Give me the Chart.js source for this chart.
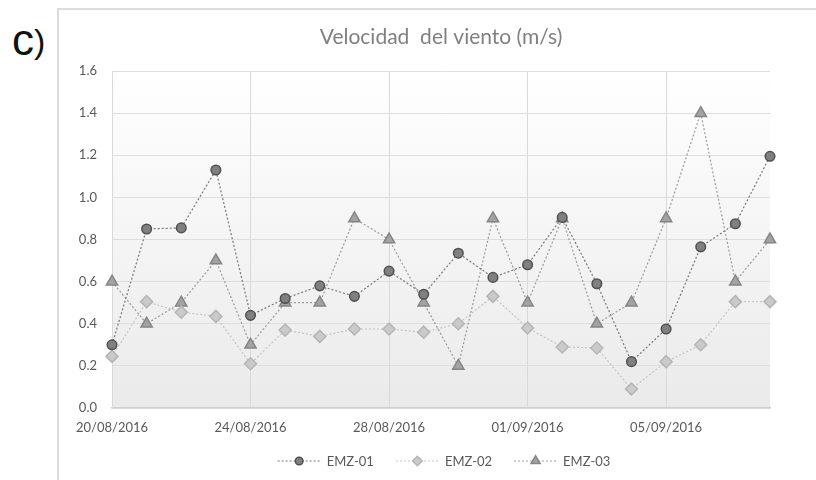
<!DOCTYPE html>
<html>
<head>
<meta charset="utf-8">
<script src="https://cdn.jsdelivr.net/npm/chart.js@4/dist/chart.umd.min.js"></script>
<style>
  html,body{margin:0;padding:0;background:#fff;}
  #wrap{position:relative;width:816px;height:480px;overflow:hidden;}
  #frame{position:absolute;left:57px;top:8px;width:800px;height:500px;border:2px solid #dcdcdc;box-sizing:border-box;}
  #lab{position:absolute;left:12px;top:18px;font-family:"Liberation Sans",Arial,sans-serif;color:#111;line-height:1;}
  canvas{position:absolute;left:0;top:0;}
</style>
</head>
<body>
<div id="wrap">
  <div id="frame"></div>
  <div id="lab"><span style="font-size:44px">c</span><span style="font-size:34px;position:relative;top:-2px">)</span></div>
  <canvas id="c" width="816" height="480"></canvas>
</div>
<script>
const TITLE = "Velocidad  del viento (m/s)";
const dates = ["20/08/2016","21/08/2016","22/08/2016","23/08/2016","24/08/2016","25/08/2016","26/08/2016","27/08/2016","28/08/2016","29/08/2016","30/08/2016","31/08/2016","01/09/2016","02/09/2016","03/09/2016","04/09/2016","05/09/2016","06/09/2016","07/09/2016","08/09/2016"];
const seriesNames = ["EMZ-01","EMZ-02","EMZ-03"];
const emz01 = [0.30,0.85,0.855,1.13,0.44,0.52,0.58,0.53,0.65,0.54,0.735,0.62,0.68,0.905,0.59,0.22,0.375,0.765,0.875,1.195];
const emz02 = [0.245,0.505,0.455,0.435,0.21,0.37,0.34,0.375,0.375,0.36,0.40,0.53,0.38,0.29,0.285,0.09,0.22,0.30,0.505,0.505];
const emz03 = [0.6,0.4,0.5,0.7,0.3,0.5,0.5,0.9,0.8,0.5,0.2,0.9,0.5,0.9,0.4,0.5,0.9,1.4,0.6,0.8];
const yTicks = [0,0.2,0.4,0.6,0.8,1.0,1.2,1.4,1.6];
const labelEvery = 4;

const FONT = "Lato, 'Open Sans', sans-serif";

const bgPlugin = {
  id:'bg',
  beforeDraw(chart){
    const {ctx, chartArea:a} = chart;
    const g = ctx.createLinearGradient(0,a.top,0,a.bottom);
    g.addColorStop(0,'#ffffff');
    g.addColorStop(1,'#eaeaea');
    ctx.save();
    ctx.fillStyle = g;
    ctx.fillRect(a.left,a.top,a.right-a.left,a.bottom-a.top);
    ctx.restore();
  },
  afterDraw(chart){
    const {ctx, chartArea:a} = chart;
    ctx.save();
    ctx.font = "21px " + FONT;
    ctx.fillStyle = '#808080';
    ctx.textAlign = 'center';
    ctx.textBaseline = 'middle';
    ctx.fillText(TITLE,(a.left+a.right)/2,37);
    ctx.restore();
    // legend
    ctx.save();
    ctx.font = "13px " + FONT;
    const lineLen = 43, gapText = 6, gapItem = 22;
    const items = chart.data.datasets.map(ds => ({ds, w: lineLen+gapText+ctx.measureText(ds.label).width}));
    const total = items.reduce((s,it)=>s+it.w,0) + gapItem*(items.length-1);
    let x = (a.left+a.right)/2 + 3 - total/2;
    const y = 461;
    items.forEach(it => {
      const ds = it.ds;
      ctx.strokeStyle = ds.borderColor;
      ctx.lineWidth = 1.2;
      ctx.setLineDash([2,2]);
      ctx.beginPath(); ctx.moveTo(x,y); ctx.lineTo(x+lineLen,y); ctx.stroke();
      ctx.setLineDash([]);
      ctx.fillStyle = ds.pointBackgroundColor;
      ctx.strokeStyle = ds.pointBorderColor;
      ctx.lineWidth = ds.pointBorderWidth;
      Chart.helpers.drawPoint(ctx,{pointStyle:ds.pointStyle,radius:ds.pointRadius*0.8,borderWidth:ds.pointBorderWidth},x+lineLen/2,y);
      ctx.fillStyle = '#595959';
      ctx.textAlign = 'left';
      ctx.textBaseline = 'middle';
      ctx.fillText(ds.label,x+lineLen+gapText,y+0.5);
      x += it.w + gapItem;
    });
    ctx.restore();
  }
};

function ds(label,data,line,fill,border,style,radius){
  return {label,data,borderColor:line,borderWidth:1.2,borderDash:[2,2],
    pointStyle:style,pointRadius:radius,pointHoverRadius:radius,
    pointBackgroundColor:fill,pointBorderColor:border,pointBorderWidth:1.5,
    tension:0,fill:false};
}

new Chart(document.getElementById('c'),{
  type:'line',
  data:{
    labels:dates,
    datasets:[
      ds(seriesNames[0],emz01,'#777777','#808080','#505050','circle',4.8),
      ds(seriesNames[1],emz02,'#c4c4c4','#cacaca','#b5b5b5','rectRot',6),
      ds(seriesNames[2],emz03,'#9a9a9a','#a3a3a3','#858585','triangle',6.5)
    ]
  },
  plugins:[bgPlugin],
  options:{
    responsive:false,
    animation:false,
    layout:{padding:{left:0,right:46,top:71,bottom:42}},
    plugins:{legend:{display:false},title:{display:false},tooltip:{enabled:false}},
    scales:{
      x:{
        offset:false,
        afterFit(s){s.height=30;},
        afterBuildTicks(s){s.ticks=s.ticks.filter(t=>t.value%labelEvery===0);},
        grid:{drawTicks:false,color:'#d9d9d9',lineWidth:1},
        border:{display:true,color:'#cfcfcf',width:1.5},
        ticks:{autoSkip:false,maxRotation:0,padding:12,color:'#595959',font:{family:FONT,size:13},
          callback:function(v){return this.getLabelForValue(v);}}
      },
      y:{
        min:0,max:1.6,
        afterFit(s){s.width=112;},
        afterBuildTicks(s){s.ticks=yTicks.map(v=>({value:v}));},
        grid:{drawTicks:false,color:'#dedede',lineWidth:1},
        border:{display:true,color:'#d9d9d9',width:1},
        ticks:{padding:15,color:'#595959',font:{family:FONT,size:13},callback:v=>v.toFixed(1)}
      }
    }
  }
});
</script>
</body>
</html>
